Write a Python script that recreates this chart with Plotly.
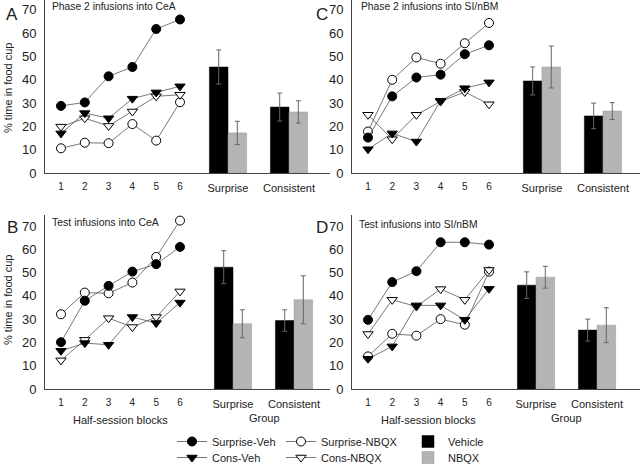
import plotly.graph_objects as go

W, H = 640, 465

blocks = [1, 2, 3, 4, 5, 6]
groups = ["Surprise", "Consistent"]

# Panel A: Phase 2 infusions into CeA
A_surprise_veh = [28.8, 30.3, 41.5, 45.5, 61.8, 65.9]
A_cons_veh = [17.0, 25.7, 23.5, 31.9, 34.6, 37.2]
A_surprise_nbqx = [10.6, 13.0, 12.8, 21.0, 13.9, 30.4]
A_cons_nbqx = [19.9, 23.5, 20.2, 26.4, 32.9, 33.6]
A_bar_veh = [45.5, 28.3]
A_bar_veh_err = [7.3, 6.0]
A_bar_nbqx = [17.2, 26.2]
A_bar_nbqx_err = [5.0, 4.8]

# Panel C: Phase 2 infusions into SI/nBM
C_surprise_veh = [15.2, 32.9, 41.0, 42.2, 51.0, 54.8]
C_cons_veh = [10.2, 17.0, 13.5, 31.0, 36.4, 38.9]
C_surprise_nbqx = [17.8, 40.0, 49.6, 46.9, 55.7, 64.4]
C_cons_nbqx = [25.0, 14.5, 25.0, 30.7, 34.8, 29.5]
C_bar_veh = [39.5, 24.5]
C_bar_veh_err = [6.0, 5.5]
C_bar_nbqx = [45.5, 26.6]
C_bar_nbqx_err = [9.0, 3.6]

# Panel B: Test infusions into CeA
B_surprise_veh = [20.1, 37.9, 44.3, 50.4, 53.6, 61.0]
B_cons_veh = [16.4, 19.7, 19.0, 30.9, 28.3, 37.1]
B_surprise_nbqx = [32.1, 41.4, 41.1, 45.7, 56.7, 72.3]
B_cons_nbqx = [12.3, 21.1, 30.4, 26.6, 30.9, 41.9]
B_bar_veh = [52.3, 29.4]
B_bar_veh_err = [7.1, 4.6]
B_bar_nbqx = [28.0, 38.3]
B_bar_nbqx_err = [6.0, 10.3]

# Panel D: Test infusions into SI/nBM
D_surprise_veh = [29.7, 45.9, 50.6, 63.0, 63.0, 62.0]
D_cons_veh = [13.0, 18.3, 35.9, 35.9, 29.7, 43.0]
D_surprise_nbqx = [14.0, 23.7, 22.9, 30.0, 27.6, 50.4]
D_cons_nbqx = [23.6, 38.3, 35.4, 42.9, 38.3, 51.1]
D_bar_veh = [44.6, 25.3]
D_bar_veh_err = [5.7, 4.7]
D_bar_nbqx = [48.0, 27.4]
D_bar_nbqx_err = [4.7, 7.5]

yticks = [0, 10, 20, 30, 40, 50, 60, 70]

FONT = "Arial"
LINE_C = "#555555"
AXIS_C = "#444444"
GRAY_BAR = "#b4b4b4"
TXT_C = "#222222"

fig = go.Figure()

series_styles = [
    ("Surprise-Veh", "circle", "black", "legend"),
    ("Cons-Veh", "triangle-down", "black", "legend2"),
    ("Surprise-NBQX", "circle", "white", "legend3"),
    ("Cons-NBQX", "triangle-down", "white", "legend4"),
]

panels = [
    (1, 2, [A_surprise_veh, A_cons_veh, A_surprise_nbqx, A_cons_nbqx],
     (A_bar_veh, A_bar_veh_err, A_bar_nbqx, A_bar_nbqx_err)),
    (3, 4, [C_surprise_veh, C_cons_veh, C_surprise_nbqx, C_cons_nbqx],
     (C_bar_veh, C_bar_veh_err, C_bar_nbqx, C_bar_nbqx_err)),
    (5, 6, [B_surprise_veh, B_cons_veh, B_surprise_nbqx, B_cons_nbqx],
     (B_bar_veh, B_bar_veh_err, B_bar_nbqx, B_bar_nbqx_err)),
    (7, 8, [D_surprise_veh, D_cons_veh, D_surprise_nbqx, D_cons_nbqx],
     (D_bar_veh, D_bar_veh_err, D_bar_nbqx, D_bar_nbqx_err)),
]


def ax(i, kind):
    return kind if i == 1 else f"{kind}{i}"


for pi, (li, bi, series, bars) in enumerate(panels):
    first = pi == 0
    for si in [2, 3, 0, 1]:
        name, sym, fill, leg = series_styles[si]
        fig.add_trace(go.Scatter(
            x=blocks, y=series[si], mode="lines+markers", name=name,
            line=dict(color=LINE_C, width=0.8),
            marker=dict(symbol=sym, size=9, color=fill,
                        line=dict(color="black", width=1)),
            xaxis=ax(li, "x"), yaxis=ax(li, "y"),
            showlegend=first, legend=leg,
        ))
    veh, veh_e, nb, nb_e = bars
    fig.add_trace(go.Bar(
        x=[0, 1], y=veh, name="Vehicle",
        marker=dict(color="black", line=dict(color="black", width=0.5)),
        error_y=dict(type="data", array=veh_e, color="#666666",
                     thickness=1, width=2.5),
        xaxis=ax(bi, "x"), yaxis=ax(bi, "y"),
        showlegend=first, legend="legend5",
    ))
    fig.add_trace(go.Bar(
        x=[0, 1], y=nb, name="NBQX",
        marker=dict(color=GRAY_BAR, line=dict(color="#9a9a9a", width=0.5)),
        error_y=dict(type="data", array=nb_e, color="#666666",
                     thickness=1, width=2.5),
        xaxis=ax(bi, "x"), yaxis=ax(bi, "y"),
        showlegend=first, legend="legend6",
    ))


def px_x(p):
    return p / W


def px_y(p):
    return 1 - p / H


rows = {
    "top": dict(y0=173, y1=0, rng=[0, 173 / 2.33]),
    "bot": dict(y0=389, y1=215, rng=[0, (389 - 215) / 2.329]),
}
axes_geom = {
    1: ("top", 45, 190, [0.328, 6.42], "line"),
    2: ("top", 190, 330, [-0.623, 1.672], "bar"),
    3: ("top", 352, 508, [0.339, 6.785], "line"),
    4: ("top", 508, 640, [-0.557, 1.607], "bar"),
    5: ("bot", 45, 190, [0.328, 6.42], "line"),
    6: ("bot", 190, 330, [-0.705, 1.59], "bar"),
    7: ("bot", 352, 505, [0.339, 6.66], "line"),
    8: ("bot", 505, 640, [-0.508, 1.705], "bar"),
}

layout_axes = {}
for i, (row, x0, x1, xr, kind) in axes_geom.items():
    r = rows[row]
    xa = dict(domain=[px_x(x0), px_x(x1)], range=xr, showline=True,
              linecolor=AXIS_C, linewidth=1, showgrid=False, zeroline=False,
              ticks="", anchor=ax(i, "y"), fixedrange=True, automargin=False)
    ya = dict(domain=[px_y(r["y0"]), px_y(r["y1"])], range=r["rng"],
              showgrid=False, zeroline=False, anchor=ax(i, "x"),
              fixedrange=True, automargin=False)
    if kind == "line":
        xa.update(tickmode="array", tickvals=blocks,
                  ticktext=[str(b) for b in blocks],
                  tickfont=dict(family=FONT, size=10, color=TXT_C),
                  ticklabelstandoff=4)
        ya.update(showline=True, linecolor=AXIS_C, linewidth=1, ticks="",
                  tickmode="array", tickvals=yticks,
                  tickfont=dict(family=FONT, size=13, color=TXT_C),
                  ticklabelstandoff=5)
    else:
        xa.update(tickmode="array", tickvals=[0, 1], ticktext=groups,
                  tickfont=dict(family=FONT, size=11, color=TXT_C),
                  ticklabelstandoff=5)
        ya.update(visible=False)
    layout_axes[ax(i, "xaxis")] = xa
    layout_axes[ax(i, "yaxis")] = ya

annotations = []


def txt(text, x, y, size=11, xanchor="center", **kw):
    d = dict(text=text, x=px_x(x), y=px_y(y), xref="paper", yref="paper",
             xanchor=xanchor, yanchor="middle", showarrow=False,
             font=dict(family=FONT, size=size, color=TXT_C))
    d.update(kw)
    annotations.append(d)


txt("A", 12, 15, size=17)
txt("C", 322, 15, size=17)
txt("B", 12, 227, size=17)
txt("D", 322, 227, size=17)
txt("Phase 2 infusions into CeA", 50, 7, size=10.3, xanchor="left")
txt("Phase 2 infusions into SI/nBM", 359, 7, size=10.3, xanchor="left")
txt("Test infusions into CeA", 50, 222, size=10.5, xanchor="left")
txt("Test infusions into SI/nBM", 357, 224, size=10.3, xanchor="left")
txt("% time in food cup", 8, 88, textangle=-90)
txt("% time in food cup", 8, 300, textangle=-90)
txt("Half-session blocks", 120, 420)
txt("Half-session blocks", 428, 420)
txt("Group", 264, 418)
txt("Group", 566, 418)

leg_common = dict(yanchor="top", xanchor="left", bgcolor="rgba(0,0,0,0)",
                  font=dict(family=FONT, size=11, color=TXT_C),
                  itemwidth=30, tracegroupgap=0)

row1_top, row2_top = 427, 443
fig.update_layout(
    width=W, height=H,
    margin=dict(l=0, r=0, t=0, b=0, autoexpand=False),
    paper_bgcolor="white", plot_bgcolor="white",
    barmode="group", bargap=0.39, bargroupgap=0,
    annotations=annotations,
    legend=dict(x=px_x(172), y=px_y(row1_top), **leg_common),
    legend2=dict(x=px_x(172), y=px_y(row2_top), **leg_common),
    legend3=dict(x=px_x(281), y=px_y(row1_top), **leg_common),
    legend4=dict(x=px_x(281), y=px_y(row2_top), **leg_common),
    legend5=dict(x=px_x(408), y=px_y(row1_top), **leg_common),
    legend6=dict(x=px_x(408), y=px_y(row2_top), **leg_common),
    **layout_axes,
)

fig.write_html("out.html", config={"displayModeBar": False},
               post_script="document.body.style.margin='0';")
